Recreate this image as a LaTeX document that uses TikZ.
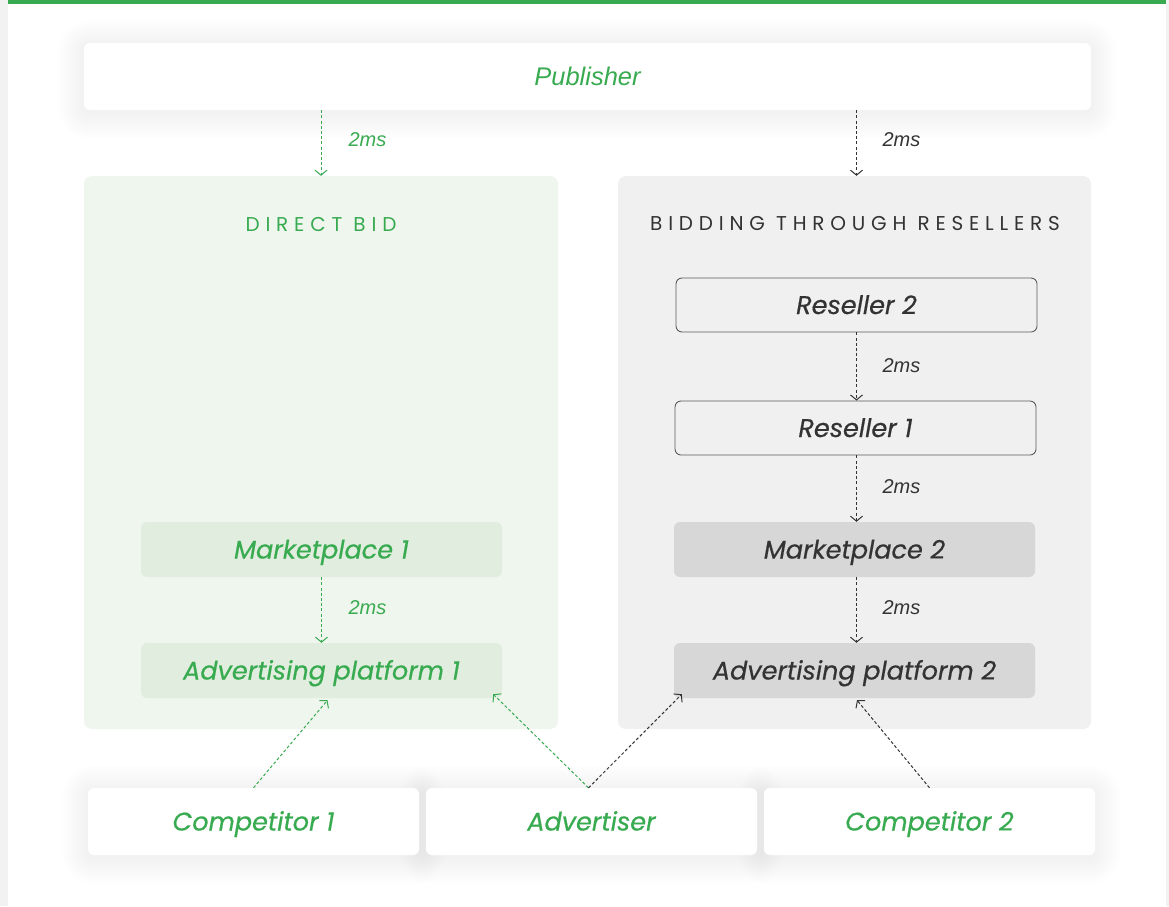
\documentclass[tikz,border=0pt]{standalone}
\usepackage{fontspec}
\usetikzlibrary{arrows.meta}
\newfontfamily\labelfont{Liberation Sans}
\newfontfamily\boxfont{Poppins}[ItalicFeatures={FakeBold=0.5}]
\newfontfamily\capsfont{Poppins}[LetterSpace=29]

\definecolor{brand}{HTML}{38AA50}
\definecolor{ink}{HTML}{333333}
\definecolor{edge}{HTML}{F2F2F2}
\definecolor{greenpanel}{HTML}{EFF6EE}
\definecolor{greenbox}{HTML}{E1EEDF}
\definecolor{graypanel}{HTML}{F0F0F0}
\definecolor{graybox}{HTML}{D8D7D8}
\definecolor{outline}{HTML}{5A5A5A}

\pgfdeclarelayer{canvas}
\pgfdeclarelayer{shade}
\pgfsetlayers{canvas,shade,main}

\tikzset{
  card/.style={fill=white, rounded corners=6pt, minimum height=67pt,
    font=\boxfont\itshape\fontsize{25.5}{28}\selectfont, text=brand,
    text height=18pt, text depth=0pt},
  panel/.style={rounded corners=8pt, minimum width=474pt, minimum height=553pt},
  innerbox/.style={rounded corners=6pt, minimum width=361pt, minimum height=55pt,
    font=\boxfont\itshape\fontsize{25.5}{28}\selectfont, text height=18pt, text depth=0pt},
  greenbox/.style={innerbox, fill=greenbox, text=brand},
  graybox/.style={innerbox, fill=graybox, text=ink},
  resellerbox/.style={innerbox, fill=graypanel, draw=outline, line width=0.9pt, minimum height=54pt, text=ink},
  heading/.style={font=\capsfont\fontsize{20}{24}\selectfont},
  flow/.style={dashed, dash pattern=on 3pt off 2.2pt, line width=1pt,
    -{Straight Barb[length=5pt,width=12pt,line width=1pt]}},
  greenflow/.style={flow, draw=brand},
  grayflow/.style={flow, draw=ink},
  delay/.style={font=\labelfont\itshape\fontsize{20}{24}\selectfont, anchor=west}
}

% soft drop shadow behind a named card
\newcommand\cardshadow[1]{%
  \begin{pgfonlayer}{shade}
    \foreach \i in {2,4,...,26}{
      \fill[black, opacity=0.0035, rounded corners=6pt+\i pt]
        ([xshift=-\i pt, yshift=\i pt-3pt]#1.north west)
        rectangle ([xshift=\i pt, yshift=-\i pt-3pt]#1.south east);
    }
  \end{pgfonlayer}}

\begin{document}
\begin{tikzpicture}[x=1pt,y=-1pt]
\useasboundingbox (0,0) rectangle (1169,906);
\begin{pgfonlayer}{canvas}
\fill[white] (0,0) rectangle (1169,906);
\fill[edge] (0,0) rectangle (8,906);
\fill[edge] (1166,0) rectangle (1169,906);
\fill[brand] (8,0) rectangle (1166,3.5);
\end{pgfonlayer}

% top
\node[card, minimum width=1007pt, font=\labelfont\itshape\fontsize{25.5}{28}\selectfont] (pub) at (587.5,76.5) {Publisher};

% the two panels
\node[panel, fill=greenpanel] (lp) at (321,452.5) {};
\node[panel, fill=graypanel, minimum width=473pt] (rp) at (854.5,452.5) {};
\node[heading, text=brand] (lt) at (321,224) {DIRECT BID};
\node[heading, text=ink] (rt) at (855,224) {BIDDING THROUGH RESELLERS};

% direct bid chain
\node[greenbox] (m1) at (321.5,549.5) {Marketplace 1};
\node[greenbox] (a1) at (321.5,670.5) {Advertising platform 1};

% reseller chain
\node[resellerbox] (r2) at (856.5,305) {Reseller 2};
\node[resellerbox] (r1) at (855.5,428) {Reseller 1};
\node[graybox] (m2) at (854.5,549.5) {Marketplace 2};
\node[graybox] (a2) at (854.5,670.5) {Advertising platform 2};

% bidders
\node[card, minimum width=331pt] (c1) at (253.5,821.5) {Competitor 1};
\node[card, minimum width=331pt] (ad) at (591.5,821.5) {Advertiser};
\node[card, minimum width=331pt] (c2) at (929.5,821.5) {Competitor 2};

\cardshadow{pub}
\cardshadow{c1}
\cardshadow{ad}
\cardshadow{c2}

% vertical flows with delays
\draw[greenflow] (lp.north |- pub.south) -- (lp.north);
\node[delay, text=brand] at (345,140) {2ms};
\draw[grayflow] (r2.north |- pub.south) -- (r2.north |- rp.north);
\node[delay, text=ink] at (879,140) {2ms};

\draw[grayflow] (r2.south) -- (r2.south |- r1.north);
\node[delay, text=ink] at (879,366) {2ms};
\draw[grayflow] (r2.south |- r1.south) -- (r2.south |- m2.north);
\node[delay, text=ink] at (879,487) {2ms};
\draw[grayflow] (r2.south |- m2.south) -- (r2.south |- a2.north);
\node[delay, text=ink] at (879,608) {2ms};

\draw[greenflow] (m1.south) -- (a1.north);
\node[delay, text=brand] at (345,608) {2ms};

% bids from the bottom row
\draw[greenflow] (c1.north) -- ([xshift=6pt,yshift=-2pt]a1.south);
\draw[greenflow] ([xshift=-3pt]ad.north) -- ([xshift=-9pt,yshift=4pt]a1.south east);
\draw[grayflow] ([xshift=-3pt]ad.north) -- ([xshift=8pt,yshift=4pt]a2.south west);
\draw[grayflow] (c2.north) -- ([xshift=2.5pt,yshift=-2pt]a2.south);
\end{tikzpicture}
\end{document}
